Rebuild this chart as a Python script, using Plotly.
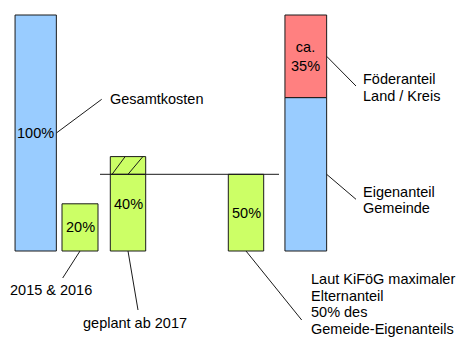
import plotly.graph_objects as go

# --- values (percent of total cost) ---
gesamtkosten = 100          # total cost
eltern_2015_2016 = 20       # parents' share 2015 & 2016
eltern_ab_2017 = 40         # planned parents' share from 2017
foerderanteil = 35          # subsidy Land / Kreis (approx.)
eigenanteil = gesamtkosten - foerderanteil      # municipality's own share
eltern_max = 0.5 * eigenanteil                  # KiFöG cap: 50% of own share

bar_labels = ["100%", "20%", "40%", "50%"]
foerder_label = "ca.<br>35%"

# --- figure geometry (pixels) ---
W, H = 472, 345
Y_TOP_PX, Y_ZERO_PX = 15, 251          # pixel rows of 100% and 0%
PX_PER_UNIT = (Y_ZERO_PX - Y_TOP_PX) / 100.0
Y_RANGE = [-(H - Y_ZERO_PX) / PX_PER_UNIT, 100 + Y_TOP_PX / PX_PER_UNIT]


def ypx(p):
    """Convert a pixel row into a y-axis value."""
    return (Y_ZERO_PX - p) / PX_PER_UNIT


centers = [35.7, 80, 128, 246, 305.8]
widths = [41.3, 36, 35.4, 35.4, 41.7]

BLUE = "#99CCFF"
GREEN = "#CCFF66"
RED = "#FF8080"
INK = "#1a1a1a"
EDGE = dict(color=INK, width=1)
FONT = dict(family="Liberation Sans, Arial, sans-serif", size=14.5, color="#000000")

fig = go.Figure()

# total cost
fig.add_bar(x=[centers[0]], y=[gesamtkosten], width=[widths[0]],
            marker=dict(color=BLUE, line=EDGE))
# parents' share 2015/2016
fig.add_bar(x=[centers[1]], y=[eltern_2015_2016], width=[widths[1]],
            marker=dict(color=GREEN, line=EDGE))
# planned parents' share: part within the cap, part above it (hatched below)
within = min(eltern_ab_2017, eltern_max)
fig.add_bar(x=[centers[2]], y=[within], width=[widths[2]],
            marker=dict(color=GREEN, line=EDGE))
fig.add_bar(x=[centers[2]], y=[eltern_ab_2017 - within], base=[within], width=[widths[2]],
            marker=dict(color=GREEN, line=EDGE))
# maximum parents' share under KiFöG
fig.add_bar(x=[centers[3]], y=[eltern_max], width=[widths[3]],
            marker=dict(color=GREEN, line=EDGE))
# funding split: own share + subsidy
fig.add_bar(x=[centers[4]], y=[eigenanteil], width=[widths[4]],
            marker=dict(color=BLUE, line=EDGE))
fig.add_bar(x=[centers[4]], y=[foerderanteil], base=[eigenanteil], width=[widths[4]],
            marker=dict(color=RED, line=EDGE))

annotations = []


def label(x, y, text, **kw):
    annotations.append(dict(x=x, y=y, text=text, showarrow=False, font=FONT,
                            xref="x", yref="y", **kw))


# value labels inside the bars
values = [gesamtkosten, eltern_2015_2016, eltern_ab_2017, eltern_max]
for c, v, t in zip(centers[:4], values, bar_labels):
    label(c, v / 2, t, xanchor="center", yanchor="middle")
label(centers[4], eigenanteil + foerderanteil / 2, foerder_label,
      xanchor="center", yanchor="middle")

shapes = []


def seg(x0, y0, x1, y1, layer="above"):
    shapes.append(dict(type="line", xref="x", yref="y", x0=x0, y0=y0, x1=x1, y1=y1,
                       line=dict(color=INK, width=1), layer=layer))


# hatching on the part of the planned share that exceeds the cap
left3 = centers[2] - widths[2] / 2
for fb, ft in [(0.05, 0.42), (0.50, 0.92)]:
    seg(left3 + fb * widths[2], within, left3 + ft * widths[2], eltern_ab_2017)

# leader lines
right = [c + w / 2 for c, w in zip(centers, widths)]
seg(right[0], gesamtkosten / 2, 101.7, ypx(99.3))
seg(right[4], eigenanteil + foerderanteil / 2, 356, ypx(86))
seg(right[4], eigenanteil / 2, 356, ypx(199.3))
seg(centers[1], 0, 62.7, ypx(278))
seg(centers[2], 0, 138, ypx(310))
seg(centers[3], 0, 301.7, ypx(320))

# cap line for the parents' share
seg(100, eltern_max, 279, eltern_max)

LINE_GAP = 16.7


def text_block(x, y_px, lines, anchor="left"):
    for i, ln in enumerate(lines):
        label(x, ypx(y_px + i * LINE_GAP), ln, xanchor=anchor, yanchor="middle")


text_block(107.5, 99, ["Gesamtkosten"])
text_block(361, 79, ["Föderanteil", "Land / Kreis"])
text_block(361, 191.7, ["Eigenanteil", "Gemeinde"])
text_block(51, 290, ["2015 & 2016"], anchor="center")
text_block(135, 323, ["geplant ab 2017"], anchor="center")
text_block(309, 279, ["Laut KiFöG maximaler", "Elternanteil", "50% des",
                      "Gemeide-Eigenanteils"])

fig.update_layout(
    width=W, height=H,
    margin=dict(l=0, r=0, t=0, b=0),
    paper_bgcolor="white", plot_bgcolor="white",
    barmode="overlay", showlegend=False,
    xaxis=dict(range=[0, W], visible=False, fixedrange=True),
    yaxis=dict(range=Y_RANGE, visible=False, fixedrange=True),
    shapes=shapes, annotations=annotations,
)

fig.write_html("out.html")
